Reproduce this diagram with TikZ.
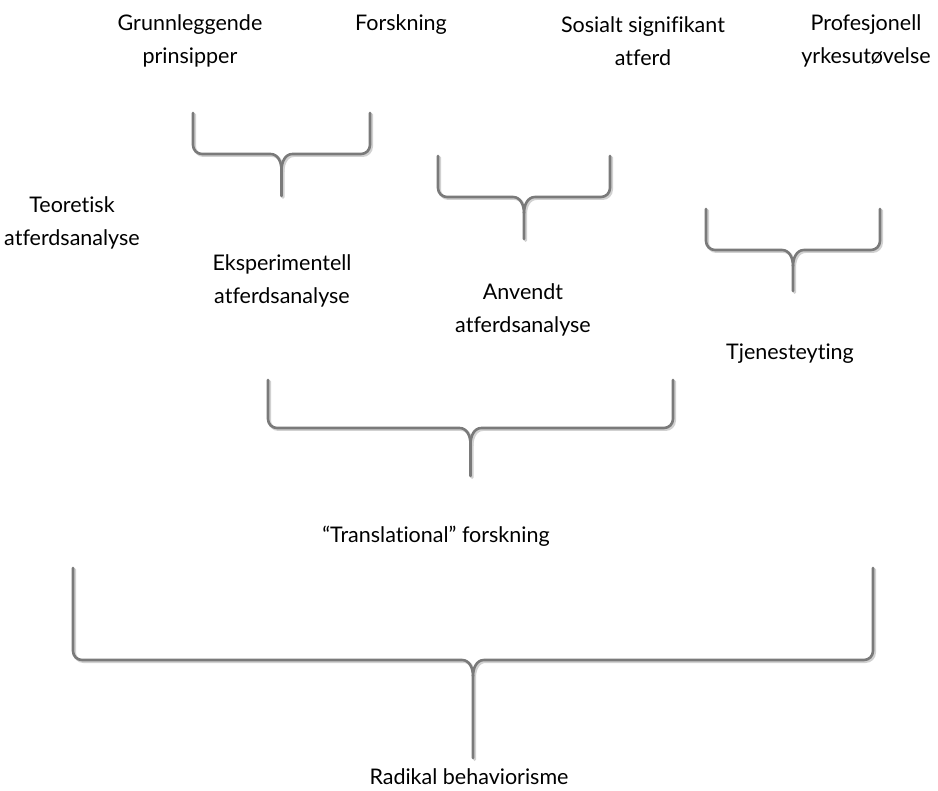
\documentclass[tikz,border=0pt]{standalone}
\usepackage{fontspec}
\setmainfont{Lato}[Ligatures={NoCommon,NoRequired,NoContextual}]
\tikzset{
  lbl/.style={align=center, inner sep=0pt, font=\fontsize{21.5}{33}\selectfont},
  brc/.style={draw=black!52, line width=2.6pt, line cap=round, line join=round},
  brcshadow/.style={draw=black!18, line width=3pt, line cap=round, line join=round},
}
\newcommand{\kbrace}[5]{%
  \pgfmathsetmacro\kbmid{(#1+#2)/2}%
  \foreach \sty/\dx in {brcshadow/1.5, brc/0}{%
    \begin{scope}[shift={(\dx,\dx)}]
    \draw[\sty] (#1,#3) -- (#1,#4-9) to[out=-90,in=180] (#1+9,#4) -- (\kbmid-11,#4)
      to[out=0,in=90] (\kbmid,#4+16) -- (\kbmid,#5);
    \draw[\sty] (#2,#3) -- (#2,#4-9) to[out=-90,in=0] (#2-9,#4) -- (\kbmid+11,#4)
      to[out=180,in=90] (\kbmid,#4+16);
    \end{scope}
  }%
}
\begin{document}
\begin{tikzpicture}[x=1pt,y=-1pt]
\useasboundingbox (0,0) rectangle (938,791);
\node[lbl] (grunn) at (190,41) {Grunnleggende\\prinsipper};
\node[lbl] (forsk) at (401,24.5) {Forskning};
\node[lbl] (sosial) at (643,41) {Sosialt signifikant\\atferd};
\node[lbl] (prof) at (866,41) {Profesjonell\\yrkesutøvelse};
\node[lbl] (teor) at (72,223) {Teoretisk\\atferdsanalyse};
\node[lbl] (eksp) at (282,280.5) {Eksperimentell\\atferdsanalyse};
\node[lbl] (anv) at (523,310) {Anvendt\\atferdsanalyse};
\node[lbl] (tjen) at (790,354) {Tjenesteyting};
\node[lbl] (transl) at (436,536.5) {“Translational” forskning};
\node[lbl] (radikal) at (469,777) {Radikal behaviorisme};
\kbrace{193}{370}{113}{154}{196}
\kbrace{438}{610}{156}{197}{239}
\kbrace{706}{880}{209}{250}{291}
\kbrace{268}{673}{380}{428}{476}
\kbrace{73}{873}{568}{660}{758}
\end{tikzpicture}
\end{document}
